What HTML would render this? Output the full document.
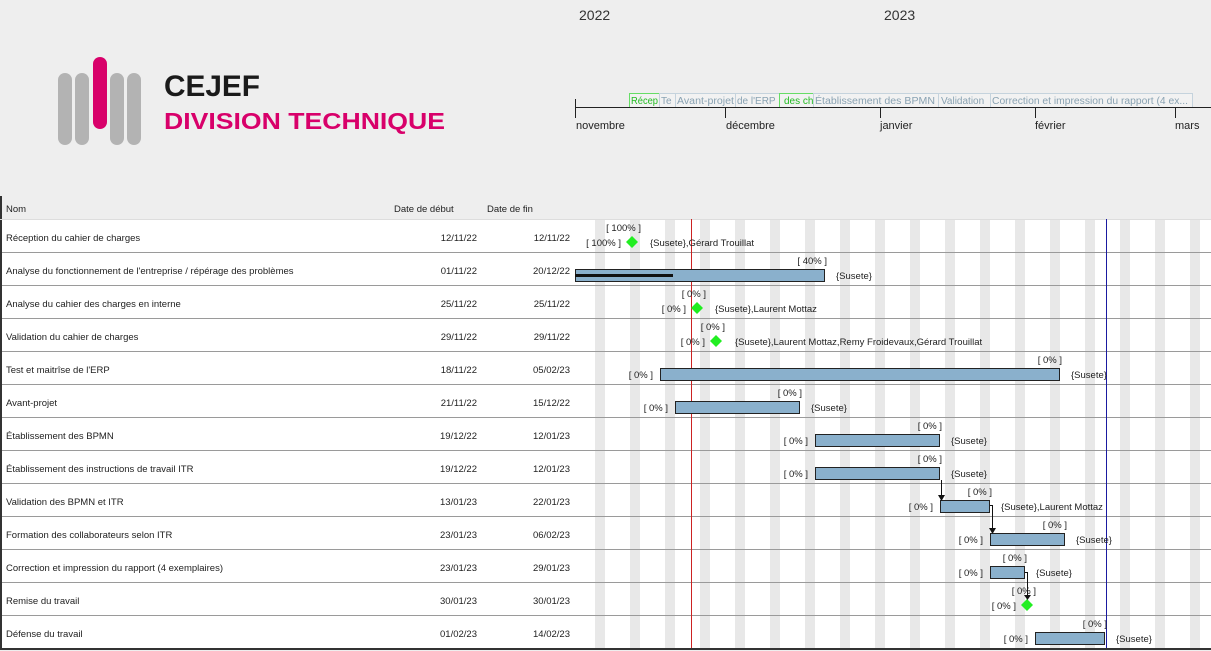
<!DOCTYPE html>
<html><head><meta charset="utf-8"><style>
html,body{margin:0;padding:0;background:#eeeeee;}
svg{display:block;font-family:"Liberation Sans","DejaVu Sans",sans-serif;}
</style></head><body>
<svg width="1211" height="651" viewBox="0 0 1211 651" xmlns="http://www.w3.org/2000/svg">
<rect width="1211" height="651" fill="#eeeeee"/>
<!-- logo -->
<g stroke-linecap="round" stroke-width="14">
<line x1="65" y1="80" x2="65" y2="138" stroke="#b3b3b3"/>
<line x1="82" y1="80" x2="82" y2="138" stroke="#b3b3b3"/>
<line x1="100" y1="64" x2="100" y2="122" stroke="#d8006a"/>
<line x1="117" y1="80" x2="117" y2="138" stroke="#b3b3b3"/>
<line x1="134" y1="80" x2="134" y2="138" stroke="#b3b3b3"/>
</g>
<text x="164" y="96" font-size="30" font-weight="900" fill="#1a1a1a" textLength="96" lengthAdjust="spacingAndGlyphs">CEJEF</text>
<text x="164" y="129" font-size="23" font-weight="900" fill="#d8006a" textLength="281" lengthAdjust="spacingAndGlyphs">DIVISION TECHNIQUE</text>
<!-- years -->
<text x="579" y="20" font-size="14" fill="#333">2022</text>
<text x="884" y="20" font-size="14" fill="#333">2023</text>
<!-- mini tasks -->
<g font-size="10">
<rect x="629.5" y="93.5" width="30" height="14" fill="#f2f2f2" stroke="#66dd66"/><text x="631" y="104" fill="#22bb22" textLength="27" lengthAdjust="spacingAndGlyphs">Récep</text>
<rect x="659.5" y="93.5" width="16" height="14" fill="#f2f2f2" stroke="#c5d3dd"/><text x="661" y="104" fill="#8aa3b3">Te</text>
<rect x="675.5" y="93.5" width="60" height="14" fill="#f2f2f2" stroke="#c5d3dd"/><text x="677" y="104" fill="#8aa3b3" textLength="57" lengthAdjust="spacingAndGlyphs">Avant-projet</text>
<rect x="735.5" y="93.5" width="44" height="14" fill="#f2f2f2" stroke="#c5d3dd"/><text x="737" y="104" fill="#8aa3b3">de l'ERP</text>
<rect x="779.5" y="93.5" width="34" height="14" fill="#f2f2f2" stroke="#66dd66"/><text x="784" y="104" fill="#22bb22">des ch</text>
<rect x="813.5" y="93.5" width="125" height="14" fill="#f2f2f2" stroke="#c5d3dd"/><text x="815" y="104" fill="#8aa3b3" textLength="120" lengthAdjust="spacingAndGlyphs">Établissement des BPMN</text>
<rect x="938.5" y="93.5" width="52" height="14" fill="#f2f2f2" stroke="#c5d3dd"/><text x="941" y="104" fill="#8aa3b3">Validation</text>
<rect x="990.5" y="93.5" width="202" height="14" fill="#f2f2f2" stroke="#c5d3dd"/><text x="992" y="104" fill="#8aa3b3" textLength="196" lengthAdjust="spacingAndGlyphs">Correction et impression du rapport (4 ex...</text>
</g>
<!-- axis -->
<line x1="575" y1="107.5" x2="1211" y2="107.5" stroke="#222"/>
<g stroke="#222"><line x1="575.5" y1="99" x2="575.5" y2="118"/><line x1="725.5" y1="107" x2="725.5" y2="118"/><line x1="880.5" y1="107" x2="880.5" y2="118"/><line x1="1035.5" y1="107" x2="1035.5" y2="118"/><line x1="1175.5" y1="107" x2="1175.5" y2="118"/></g>
<g font-size="11" fill="#222"><text x="576" y="129">novembre</text><text x="726" y="129">décembre</text><text x="880" y="129">janvier</text><text x="1035" y="129">février</text><text x="1175" y="129">mars</text></g>
<!-- table -->
<rect x="0" y="219" width="1211" height="429" fill="#ffffff"/>
<g fill="#e8e8e8">
<rect x="595" y="219" width="10" height="429"/><rect x="630" y="219" width="10" height="429"/><rect x="665" y="219" width="10" height="429"/><rect x="700" y="219" width="10" height="429"/><rect x="735" y="219" width="10" height="429"/><rect x="770" y="219" width="10" height="429"/><rect x="805" y="219" width="10" height="429"/><rect x="840" y="219" width="10" height="429"/><rect x="875" y="219" width="10" height="429"/><rect x="910" y="219" width="10" height="429"/><rect x="945" y="219" width="10" height="429"/><rect x="980" y="219" width="10" height="429"/><rect x="1015" y="219" width="10" height="429"/><rect x="1050" y="219" width="10" height="429"/><rect x="1085" y="219" width="10" height="429"/><rect x="1120" y="219" width="10" height="429"/><rect x="1155" y="219" width="10" height="429"/><rect x="1190" y="219" width="10" height="429"/>
</g>
<g stroke="#9a9a9a"><line x1="0" y1="252.5" x2="1211" y2="252.5"/><line x1="0" y1="285.5" x2="1211" y2="285.5"/><line x1="0" y1="318.5" x2="1211" y2="318.5"/><line x1="0" y1="351.5" x2="1211" y2="351.5"/><line x1="0" y1="384.5" x2="1211" y2="384.5"/><line x1="0" y1="417.5" x2="1211" y2="417.5"/><line x1="0" y1="450.5" x2="1211" y2="450.5"/><line x1="0" y1="483.5" x2="1211" y2="483.5"/><line x1="0" y1="516.5" x2="1211" y2="516.5"/><line x1="0" y1="549.5" x2="1211" y2="549.5"/><line x1="0" y1="582.5" x2="1211" y2="582.5"/><line x1="0" y1="615.5" x2="1211" y2="615.5"/></g>
<line x1="1" y1="196" x2="1" y2="650" stroke="#333" stroke-width="2"/>
<line x1="0" y1="649" x2="1211" y2="649" stroke="#333" stroke-width="2"/>
<line x1="0" y1="219.5" x2="1211" y2="219.5" stroke="#dddddd"/>
<g font-size="9.5" fill="#222">
<text x="6" y="212">Nom</text><text x="394" y="212">Date de début</text><text x="487" y="212">Date de fin</text>
</g>
<g font-size="9.5" fill="#222">
<text x="6" y="241">Réception du cahier de charges</text>
<text x="6" y="274">Analyse du fonctionnement de l'entreprise / répérage des problèmes</text>
<text x="6" y="307">Analyse du cahier des charges en interne</text>
<text x="6" y="340">Validation du cahier de charges</text>
<text x="6" y="373">Test et maitrîse de l'ERP</text>
<text x="6" y="406">Avant-projet</text>
<text x="6" y="439">Établissement des BPMN</text>
<text x="6" y="472">Établissement des instructions de travail ITR</text>
<text x="6" y="505">Validation des BPMN et ITR</text>
<text x="6" y="538">Formation des collaborateurs selon ITR</text>
<text x="6" y="571">Correction et impression du rapport (4 exemplaires)</text>
<text x="6" y="604">Remise du travail</text>
<text x="6" y="637">Défense du travail</text>
</g>
<g font-size="9.5" fill="#222" text-anchor="end">
<text x="477" y="241">12/11/22</text><text x="570" y="241">12/11/22</text>
<text x="477" y="274">01/11/22</text><text x="570" y="274">20/12/22</text>
<text x="477" y="307">25/11/22</text><text x="570" y="307">25/11/22</text>
<text x="477" y="340">29/11/22</text><text x="570" y="340">29/11/22</text>
<text x="477" y="373">18/11/22</text><text x="570" y="373">05/02/23</text>
<text x="477" y="406">21/11/22</text><text x="570" y="406">15/12/22</text>
<text x="477" y="439">19/12/22</text><text x="570" y="439">12/01/23</text>
<text x="477" y="472">19/12/22</text><text x="570" y="472">12/01/23</text>
<text x="477" y="505">13/01/23</text><text x="570" y="505">22/01/23</text>
<text x="477" y="538">23/01/23</text><text x="570" y="538">06/02/23</text>
<text x="477" y="571">23/01/23</text><text x="570" y="571">29/01/23</text>
<text x="477" y="604">30/01/23</text><text x="570" y="604">30/01/23</text>
<text x="477" y="637">01/02/23</text><text x="570" y="637">14/02/23</text>
</g>
<!-- today & end lines -->
<line x1="691.5" y1="219" x2="691.5" y2="648" stroke="#cc2222"/>
<line x1="1106.5" y1="219" x2="1106.5" y2="648" stroke="#1a1aa0"/>
<!-- bars -->
<g fill="#8ab0cc" stroke="#222">
<rect x="575.5" y="269.5" width="249" height="12"/>
<rect x="660.5" y="368.5" width="399" height="12"/>
<rect x="675.5" y="401.5" width="124" height="12"/>
<rect x="815.5" y="434.5" width="124" height="12"/>
<rect x="815.5" y="467.5" width="124" height="12"/>
<rect x="940.5" y="500.5" width="49" height="12"/>
<rect x="990.5" y="533.5" width="74" height="12"/>
<rect x="990.5" y="566.5" width="34" height="12"/>
<rect x="1035.5" y="632.5" width="69" height="12"/>
</g>
<rect x="575" y="274" width="98" height="3" fill="#111"/>
<!-- milestones -->
<g fill="#22ee22">
<path d="M632 236 L638 242 L632 248 L626 242Z"/>
<path d="M697 302 L703 308 L697 314 L691 308Z"/>
<path d="M716 335 L722 341 L716 347 L710 341Z"/>
<path d="M1027 599 L1033 605 L1027 611 L1021 605Z"/>
</g>
<!-- arrows -->
<g stroke="#111" fill="none"><line x1="941.5" y1="480" x2="941.5" y2="496"/><polyline points="990,505.5 992.5,505.5 992.5,529"/><polyline points="1025,572.5 1027.5,572.5 1027.5,596"/></g>
<g fill="#111"><path d="M938 495 L945 495 L941.5 501Z"/><path d="M989 528 L996 528 L992.5 534Z"/><path d="M1024 595 L1031 595 L1027.5 600Z"/></g>
<!-- labels -->
<g font-size="9.5" fill="#222">
<g text-anchor="end">
<text x="641" y="231">[ 100% ]</text><text x="621" y="246">[ 100% ]</text>
<text x="827" y="264">[ 40% ]</text>
<text x="706" y="297">[ 0% ]</text><text x="686" y="312">[ 0% ]</text>
<text x="725" y="330">[ 0% ]</text><text x="705" y="345">[ 0% ]</text>
<text x="1062" y="363">[ 0% ]</text><text x="653" y="378">[ 0% ]</text>
<text x="802" y="396">[ 0% ]</text><text x="668" y="411">[ 0% ]</text>
<text x="942" y="429">[ 0% ]</text><text x="808" y="444">[ 0% ]</text>
<text x="942" y="462">[ 0% ]</text><text x="808" y="477">[ 0% ]</text>
<text x="992" y="495">[ 0% ]</text><text x="933" y="510">[ 0% ]</text>
<text x="1067" y="528">[ 0% ]</text><text x="983" y="543">[ 0% ]</text>
<text x="1027" y="561">[ 0% ]</text><text x="983" y="576">[ 0% ]</text>
<text x="1036" y="594">[ 0% ]</text><text x="1016" y="609">[ 0% ]</text>
<text x="1107" y="627">[ 0% ]</text><text x="1028" y="642">[ 0% ]</text>
</g>
<text x="650" y="246">{Susete},Gérard Trouillat</text>
<text x="836" y="279">{Susete}</text>
<text x="715" y="312">{Susete},Laurent Mottaz</text>
<text x="735" y="345">{Susete},Laurent Mottaz,Remy Froidevaux,Gérard Trouillat</text>
<text x="1071" y="378">{Susete}</text>
<text x="811" y="411">{Susete}</text>
<text x="951" y="444">{Susete}</text>
<text x="951" y="477">{Susete}</text>
<text x="1001" y="510">{Susete},Laurent Mottaz</text>
<text x="1076" y="543">{Susete}</text>
<text x="1036" y="576">{Susete}</text>
<text x="1116" y="642">{Susete}</text>
</g>
</svg>
</body></html>
